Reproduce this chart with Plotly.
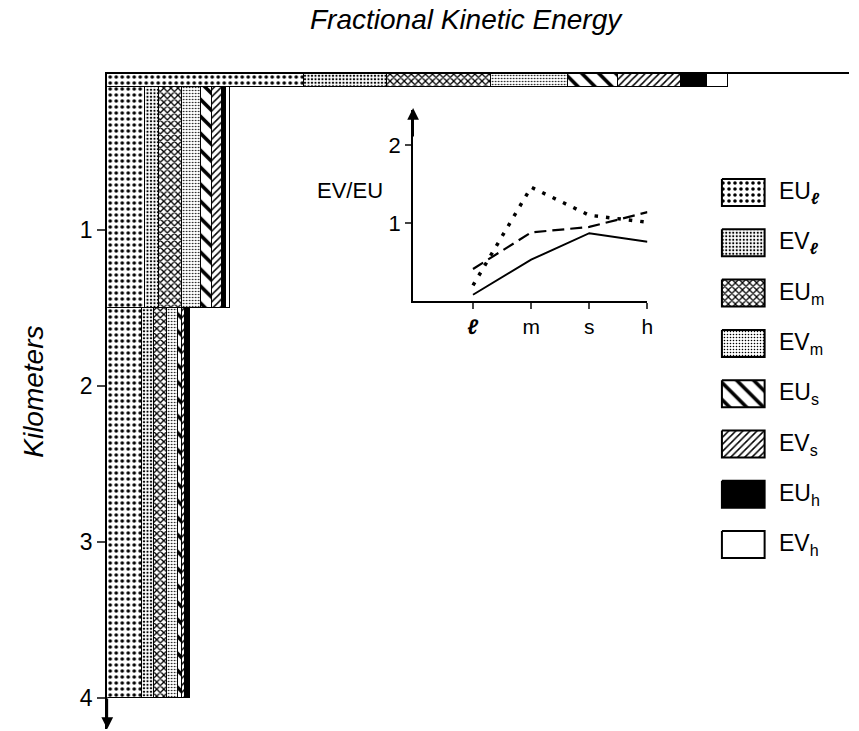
import plotly.graph_objects as go

# ---------------- data ----------------
# depth layers (km): surface strip, upper block, lower block
layer_top = [0.0, 0.083, 1.5]
layer_bottom = [0.083, 1.5, 4.0]

# fractional kinetic energy of each component in each layer
EU_l = [0.317, 0.061, 0.056]
EV_l = [0.132, 0.022, 0.019]
EU_m = [0.167, 0.038, 0.021]
EV_m = [0.124, 0.030, 0.018]
EU_s = [0.080, 0.018, 0.006]
EV_s = [0.102, 0.016, 0.006]
EU_h = [0.041, 0.006, 0.005]
EV_h = [0.035, 0.006, 0.003]

component_names = ["EU_l", "EV_l", "EU_m", "EV_m", "EU_s", "EV_s", "EU_h", "EV_h"]
component_values = [EU_l, EV_l, EU_m, EV_m, EU_s, EV_s, EU_h, EV_h]
legend_labels = ["EU<sub><b><i>ℓ</i></b></sub>", "EV<sub><b><i>ℓ</i></b></sub>",
                 "EU<sub>m</sub>", "EV<sub>m</sub>",
                 "EU<sub>s</sub>", "EV<sub>s</sub>",
                 "EU<sub>h</sub>", "EV<sub>h</sub>"]

# inset: EV/EU ratio by scale
scale_cats = ["l", "m", "s", "h"]
scale_ticktext = ["<b><i>ℓ</i></b>", "m", "s", "h"]
ratio_solid = [0.08, 0.53, 0.87, 0.76]
ratio_dashed = [0.41, 0.88, 0.95, 1.14]
ratio_dotted = [0.20, 1.46, 1.10, 1.01]

depth_ticks = [1, 2, 3, 4]

# ---------------- styles ----------------
styles = [
    dict(shape=".", size=6, solidity=0.28),
    dict(shape=".", size=3.5, solidity=0.32),
    dict(shape="x", size=5, solidity=0.45),
    dict(shape=".", size=3, solidity=0.22),
    dict(shape="\\", size=12, solidity=0.3),
    dict(shape="/", size=5, solidity=0.3),
    None,
    None,
]
solid_colors = ["white"] * 6 + ["black", "white"]

W, H = 859, 731
FONT = "Liberation Sans"

fig = go.Figure()

centers = [(a + b) / 2 for a, b in zip(layer_top, layer_bottom)]
widths = [b - a for a, b in zip(layer_top, layer_bottom)]

for name, vals, st, col in zip(component_names, component_values, styles, solid_colors):
    marker = dict(color=col, line=dict(color="black", width=1.5))
    if st is not None:
        marker["pattern"] = dict(shape=st["shape"], size=st["size"], solidity=st["solidity"],
                                 fgcolor="black", bgcolor="white", fillmode="replace")
    fig.add_trace(go.Bar(x=vals, y=centers, width=widths, orientation="h",
                         marker=marker, name=name, showlegend=False,
                         xaxis="x", yaxis="y"))

# inset lines
fig.add_trace(go.Scatter(x=scale_cats, y=ratio_solid, mode="lines",
                         line=dict(color="black", width=2), showlegend=False,
                         xaxis="x2", yaxis="y2"))
fig.add_trace(go.Scatter(x=scale_cats, y=ratio_dashed, mode="lines",
                         line=dict(color="black", width=2.2, dash="12px,6px"), showlegend=False,
                         xaxis="x2", yaxis="y2"))
fig.add_trace(go.Scatter(x=scale_cats, y=ratio_dotted, mode="lines",
                         line=dict(color="black", width=3.5, dash="3.5px,8px"), showlegend=False,
                         xaxis="x2", yaxis="y2"))

# custom legend boxes (pixel overlay axes)
box_x0, box_w, box_h, row0, row_step = 727, 43, 27, 179, 50.3
for i, (st, col, lab) in enumerate(zip(styles, solid_colors, legend_labels)):
    y0 = row0 + i * row_step
    xs = [box_x0, box_x0 + box_w, box_x0 + box_w, box_x0, box_x0]
    ys = [y0, y0, y0 + box_h, y0 + box_h, y0]
    kw = dict(fillcolor=col)
    if st is not None:
        kw["fillpattern"] = dict(shape=st["shape"], size=st["size"], solidity=st["solidity"],
                                 fgcolor="black", bgcolor="white", fillmode="replace")
    fig.add_trace(go.Scatter(x=xs, y=ys, mode="lines", fill="toself",
                             line=dict(color="black", width=2), showlegend=False,
                             hoverinfo="skip", xaxis="x3", yaxis="y3", **kw))
    fig.add_annotation(x=box_x0 + box_w + 12, y=y0 + box_h / 2, xref="x3", yref="y3",
                       text=lab, showarrow=False, xanchor="left", yanchor="middle",
                       font=dict(family=FONT, size=23, color="black"))

px_per_km = 156.0
y_top_px = 74
y_bot_px = 729
depth_max = (y_bot_px - y_top_px) / px_per_km
x_left_px, x_right_px = 108, 855
full_px = 627.0
x_max = (x_right_px - x_left_px) / full_px

fig.update_layout(
    width=W, height=H,
    margin=dict(l=0, r=0, t=0, b=0),
    paper_bgcolor="white", plot_bgcolor="rgba(0,0,0,0)",
    barmode="stack", bargap=0,
    showlegend=False,
    font=dict(family=FONT, color="black"),
    xaxis=dict(domain=[x_left_px / W, x_right_px / W], range=[0, x_max], side="top",
               showline=True, linecolor="black", linewidth=2, showgrid=False,
               zeroline=False, showticklabels=False, ticks=""),
    yaxis=dict(domain=[(H - y_bot_px) / H, (H - y_top_px) / H], range=[depth_max, 0],
               showline=True, linecolor="black", linewidth=2, showgrid=False, zeroline=False,
               tickvals=depth_ticks, ticks="outside", ticklen=8, tickwidth=1.5,
               tickfont=dict(size=23, family=FONT), anchor="x"),
    xaxis2=dict(domain=[416 / W, 652 / W], range=[-1.03, 3.0], type="category",
                categoryorder="array", categoryarray=scale_cats,
                tickvals=scale_cats, ticktext=scale_ticktext,
                showline=True, linecolor="black", linewidth=2, showgrid=False, zeroline=False,
                ticks="outside", ticklen=6, tickwidth=1.5, tickfont=dict(size=21, family=FONT),
                anchor="y2"),
    yaxis2=dict(domain=[(H - 301) / H, (H - 110) / H], range=[0, 2.45],
                showline=True, linecolor="black", linewidth=2, showgrid=False, zeroline=False,
                tickvals=[1, 2], ticks="outside", ticklen=6, tickwidth=1.5,
                tickfont=dict(size=22, family=FONT), anchor="x2"),
    xaxis3=dict(domain=[0, 1], range=[0, W], visible=False, fixedrange=True),
    yaxis3=dict(domain=[0, 1], range=[H, 0], visible=False, fixedrange=True, anchor="x3"),
)

# titles
fig.add_annotation(x=470 / W, y=1 - 20 / H, xref="paper", yref="paper",
                   xanchor="center", yanchor="middle",
                   text="<i>Fractional Kinetic Energy</i>", showarrow=False,
                   font=dict(family=FONT, size=28, color="black"))
fig.add_annotation(x=33 / W, y=1 - 392 / H, xref="paper", yref="paper",
                   xanchor="center", yanchor="middle",
                   text="<i>Kilometers</i>", showarrow=False, textangle=-90,
                   font=dict(family=FONT, size=28, color="black"))
fig.add_annotation(x=352 / W, y=1 - 190 / H, xref="paper", yref="paper",
                   xanchor="center", yanchor="middle",
                   text="EV/EU", showarrow=False,
                   font=dict(family=FONT, size=22, color="black"))

# arrows on axes
fig.add_annotation(x=x_left_px / W, y=(H - 729) / H, xref="paper", yref="paper",
                   ax=0, ay=-32, showarrow=True, arrowhead=2, arrowsize=1.3,
                   arrowwidth=1.8, arrowcolor="black", text="")
fig.add_annotation(x=416 / W, y=(H - 108) / H, xref="paper", yref="paper",
                   ax=0, ay=30, showarrow=True, arrowhead=2, arrowsize=1.3,
                   arrowwidth=1.8, arrowcolor="black", text="")

fig.write_html("out.html")
